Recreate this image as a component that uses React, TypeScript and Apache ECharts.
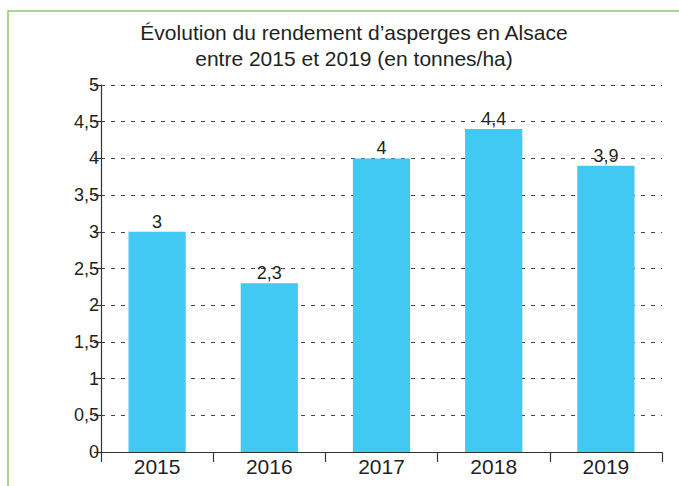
import React, { useEffect, useRef } from "react";
import * as echarts from "echarts";

const categories = ["2015", "2016", "2017", "2018", "2019"];
const values = [3, 2.3, 4, 4.4, 3.9];
const titleLines = ["Évolution du rendement d’asperges en Alsace", "entre 2015 et 2019 (en tonnes/ha)"];

const fr = (v: number) => String(v).replace(".", ",");

export default function App() {
  const ref = useRef<HTMLDivElement>(null);
  useEffect(() => {
    if (!ref.current) return;
    const chart = echarts.init(ref.current, null, { renderer: "svg" });
    const font = "'Liberation Sans', Arial, sans-serif";
    const txt = "#231f20";
    chart.setOption({
      animation: false,
      backgroundColor: "#ffffff",
      title: {
        text: titleLines.join("\n"),
        left: 349,
        textAlign: "center",
        top: 14,
        textStyle: { fontFamily: font, fontSize: 21, fontWeight: "normal", color: txt, lineHeight: 26 },
      },
      graphic: [
        {
          type: "rect",
          shape: { x: 8, y: 11, width: 720, height: 520 },
          style: { fill: "none", stroke: "#8dc96a", lineWidth: 1.5 },
          silent: true,
          z: -1,
        },
      ],
      grid: { left: 101, right: 17, top: 85, bottom: 34, containLabel: false },
      xAxis: {
        type: "category",
        data: categories,
        boundaryGap: true,
        axisLine: { lineStyle: { color: "#333333", width: 1.2 } },
        axisTick: { show: true, length: 10, alignWithLabel: false, lineStyle: { color: "#333333", width: 1.2 } },
        axisLabel: { fontFamily: font, fontSize: 21, color: txt, margin: 4 },
      },
      yAxis: {
        type: "value",
        min: 0,
        max: 5,
        interval: 0.5,
        axisLine: { show: true, lineStyle: { color: "#333333", width: 1.2 } },
        axisTick: { show: true, length: 7, lineStyle: { color: "#333333", width: 1.2 } },
        axisLabel: { fontFamily: font, fontSize: 18, color: txt, margin: 2, formatter: (v: number) => fr(v) },
        splitLine: { show: true, lineStyle: { color: "#444444", type: [4, 6], width: 1 } },
      },
      series: [
        {
          type: "bar",
          data: values,
          barWidth: "51%",
          itemStyle: { color: "#41c8f3" },
          label: {
            show: true,
            position: "top",
            distance: 1,
            fontFamily: font,
            fontSize: 18,
            color: txt,
            formatter: (p: any) => fr(p.value),
          },
        },
      ],
    });
    return () => chart.dispose();
  }, []);
  return <div ref={ref} style={{ position: "fixed", left: 0, top: 0, width: 679, height: 486 }} />;
}
